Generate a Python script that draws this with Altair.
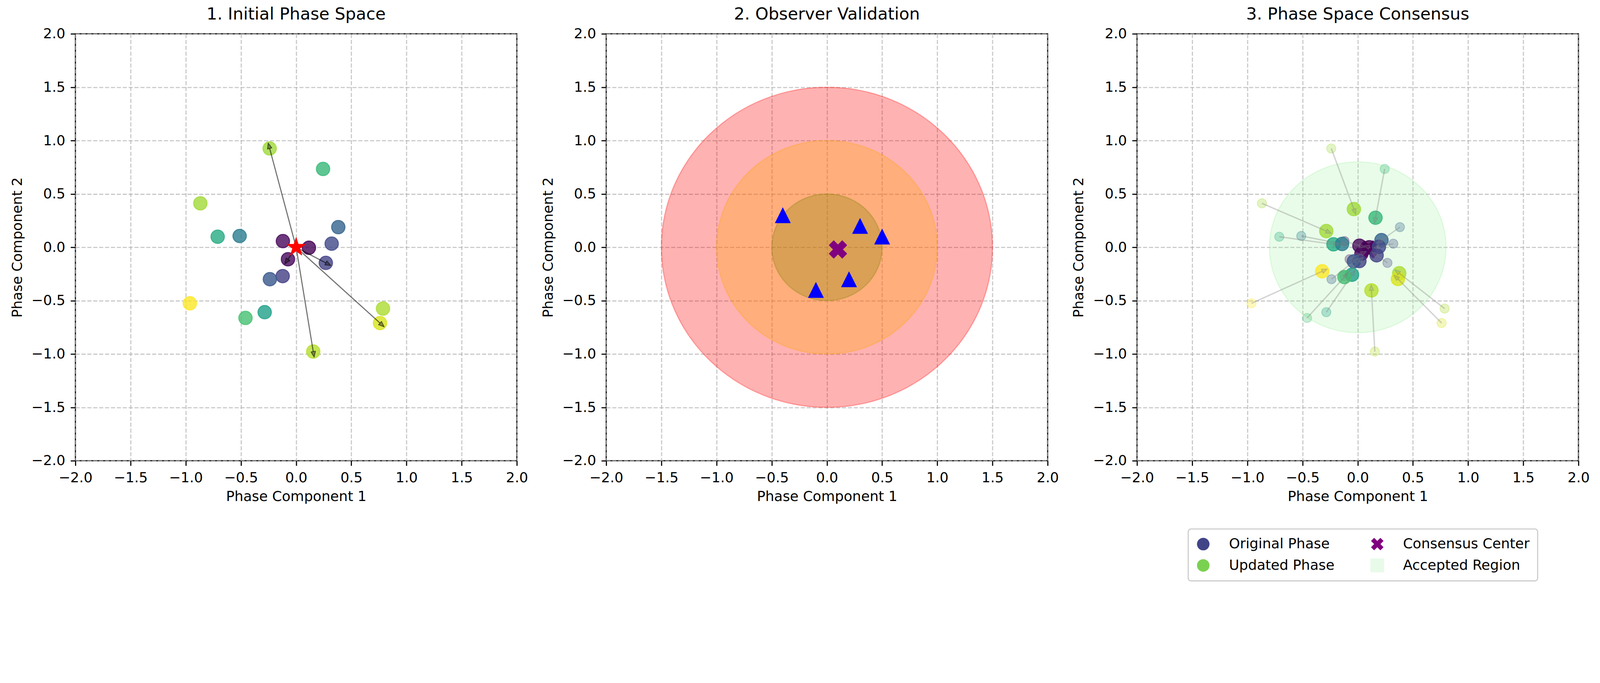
import numpy as np
import pandas as pd
import altair as alt

# phase points: original positions and positions after the consensus update
orig_x = [-0.240, 0.244, -0.868, -0.711, -0.512, 0.382, -0.120, 0.116, 0.322, -0.074,
          0.269, -0.122, -0.238, -0.963, 0.787, -0.285, -0.459, 0.760, 0.155]
orig_y = [0.926, 0.734, 0.412, 0.099, 0.106, 0.189, 0.058, -0.004, 0.034, -0.112,
          -0.146, -0.270, -0.299, -0.525, -0.574, -0.608, -0.662, -0.710, -0.977]
upd_x = [-0.035, 0.161, -0.285, -0.220, -0.142, 0.215, 0.015, 0.104, 0.192, 0.033,
         0.171, 0.015, -0.035, -0.322, 0.376, -0.052, -0.121, 0.364, 0.124]
upd_y = [0.358, 0.277, 0.152, 0.028, 0.031, 0.067, 0.015, 0.000, 0.005, -0.061,
         -0.075, -0.129, -0.132, -0.225, -0.243, -0.257, -0.279, -0.297, -0.404]
arrow_ids = [1, 10, 11, 18, 19]

star_x = [0.0]
star_y = [0.0]
center_x = [0.10]
center_y = [-0.02]

obs_x = [-0.4, 0.3, 0.5, 0.2, -0.1]
obs_y = [0.3, 0.2, 0.1, -0.3, -0.4]

zone_radius = [1.5, 1.0, 0.5]
zone_color = ["red", "orange", "olive"]
accept_radius = [0.8]
accept_color = ["lightgreen"]

ticks = [-2.0, -1.5, -1.0, -0.5, 0.0, 0.5, 1.0, 1.5, 2.0]
titles = ["1. Initial Phase Space", "2. Observer Validation", "3. Phase Space Consensus"]
legend_labels = ["Original Phase", "Updated Phase", "Consensus Center", "Accepted Region"]
legend_colors = ["#414487", "#7ad151", "purple", "#e8fae8"]

# layout (pixels)
W, H = 1319, 1276
SX, SY = W / 4, H / 4
FS = 41.7

# marker glyphs
k = 0.5523
a = SX / SY
ELLIPSE = (f"M {a} 0 C {a} {k} {a*k} 1 0 1 C {-a*k} 1 {-a} {k} {-a} 0 "
           f"C {-a} {-k} {-a*k} -1 0 -1 C {a*k} -1 {a} {-k} {a} 0 Z")
star_pts = []
for i in range(10):
    r = 1.0 if i % 2 == 0 else 0.382
    t = np.pi / 2 + i * np.pi / 5
    star_pts.append(f"{r*np.cos(t):.3f} {-r*np.sin(t):.3f}")
STAR = "M " + " L ".join(star_pts) + " Z"
XMARK = ("M -0.5 -1 L 0 -0.5 L 0.5 -1 L 1 -0.5 L 0.5 0 L 1 0.5 L 0.5 1 L 0 0.5 "
         "L -0.5 1 L -1 0.5 L -0.5 0 L -1 -0.5 Z")
TRI = "M 0 -1 L -1 1 L 1 1 Z"
HEAD = "M 0 -1.4 L -0.55 0 L 0.55 0 Z"
SQUARE = "M -1.1 -1.1 L 1.1 -1.1 L 1.1 1.1 L -1.1 1.1 Z"
legend_shapes = ["circle", "circle", XMARK, SQUARE]

phases = pd.DataFrame({"id": range(1, len(orig_x) + 1),
                       "x0": orig_x, "y0": orig_y, "x1": upd_x, "y1": upd_y})
arrows1 = phases[phases["id"].isin(arrow_ids)].assign(ox=star_x[0], oy=star_y[0])
star = pd.DataFrame({"x": star_x, "y": star_y})
center = pd.DataFrame({"x": center_x, "y": center_y})
observers = pd.DataFrame({"x": obs_x, "y": obs_y})
zones = pd.DataFrame({"r": zone_radius, "c": zone_color, "x": 0.0, "y": 0.0})
accept = pd.DataFrame({"r": accept_radius, "c": accept_color, "x": 0.0, "y": 0.0})
legend_df = pd.DataFrame({"kind": legend_labels})

SCALE = alt.Scale(domain=[-2, 2], nice=False, zero=False)
AX = alt.Axis(values=ticks, format=".1f", title="Phase Component 1")
AY = alt.Axis(values=ticks, format=".1f", title="Phase Component 2")
SIZE = alt.Scale(type="pow", exponent=2, domain=[0, 1.5], range=[0, (2 * SY * 1.5) ** 2])
VIR = alt.Scale(scheme="viridis")
NORM = "sqrt(datum.x0 * datum.x0 + datum.y0 * datum.y0)"


def ex(f):
    return alt.X(f"{f}:Q", scale=SCALE, axis=AX)


def ey(f):
    return alt.Y(f"{f}:Q", scale=SCALE, axis=AY)


def dots(xf, yf, size, alpha, sw):
    return (
        alt.Chart(phases)
        .transform_calculate(norm=NORM)
        .mark_point(shape="circle", filled=True, size=size, opacity=1,
                    fillOpacity=alpha, strokeOpacity=alpha, strokeWidth=sw)
        .encode(ex(xf), ey(yf),
                fill=alt.Fill("norm:Q", scale=VIR, legend=None),
                stroke=alt.Stroke("norm:Q", scale=VIR, legend=None))
    )


def arrows(df, fx, fy, tx, ty, color, alpha, sw):
    ang = (f"(atan2((datum.{tx} - datum.{fx}) * {SX}, (datum.{ty} - datum.{fy}) * {SY})"
           f" * 180 / PI + 360) % 360")
    line = alt.Chart(df).mark_rule(color=color, opacity=alpha, strokeWidth=sw).encode(
        ex(fx), ey(fy), x2=alt.X2(f"{tx}:Q"), y2=alt.Y2(f"{ty}:Q"))
    head = (
        alt.Chart(df)
        .transform_calculate(ang=ang)
        .mark_point(shape=HEAD, filled=True, size=576, opacity=1, fill=color,
                    fillOpacity=alpha * 0.7, stroke=color, strokeOpacity=alpha,
                    strokeWidth=2.5, strokeJoin="round")
        .encode(ex(tx), ey(ty), angle=alt.Angle("ang:Q", scale=None))
    )
    return line + head


def disc(df, i, fill_alpha, stroke_alpha):
    c = df["c"].iloc[i]
    return (
        alt.Chart(df.iloc[[i]])
        .mark_point(shape=ELLIPSE, filled=True, opacity=1, fill=c, stroke=c,
                    fillOpacity=fill_alpha, strokeOpacity=stroke_alpha, strokeWidth=3.3)
        .encode(ex("x"), ey("y"), size=alt.Size("r:Q", scale=SIZE, legend=None))
    )


def glyph(df, shape, color, size, sw):
    return alt.Chart(df).mark_point(
        shape=shape, filled=True, size=size, opacity=1, fill=color, stroke=color,
        strokeWidth=sw, strokeJoin="round").encode(ex("x"), ey("y"))


p1 = alt.layer(
    dots("x0", "y0", 1600, 0.8, 3),
    arrows(arrows1, "ox", "oy", "x0", "y0", "black", 0.55, 3.3),
    glyph(star, STAR, "red", 3300, 2),
).properties(width=W, height=H, title=titles[0])

p2 = alt.layer(
    *[disc(zones, i, 0.3, 0.3) for i in range(len(zones))],
    glyph(observers, TRI, "blue", 2116, 1),
    glyph(center, XMARK, "purple", 2600, 3),
).properties(width=W, height=H, title=titles[1])

legend = alt.Legend(title=None, symbolOpacity=1, symbolSize=1400, symbolStrokeWidth=0)
dummy = alt.Chart(legend_df).mark_point(filled=True, opacity=0).encode(
    x=alt.value(0), y=alt.value(0),
    color=alt.Color("kind:N", scale=alt.Scale(domain=legend_labels, range=legend_colors),
                    legend=legend),
    shape=alt.Shape("kind:N", scale=alt.Scale(domain=legend_labels, range=legend_shapes),
                    legend=legend),
)

p3 = alt.layer(
    disc(accept, 0, 0.2, 0.25),
    dots("x0", "y0", 750, 0.3, 2.5),
    glyph(center, XMARK, "purple", 2600, 3),
    dots("x1", "y1", 1600, 0.8, 3),
    arrows(phases, "x0", "y0", "x1", "y1", "gray", 0.35, 4),
    dummy,
).properties(width=W, height=H, title=titles[2])

chart = (
    alt.hconcat(p1, p2, p3, spacing=267, bounds="flush")
    .resolve_legend(color="independent", shape="independent")
    .configure(font="DejaVu Sans",
               padding={"left": 20, "top": -119, "right": 20, "bottom": -100})
    .configure_view(stroke="black", strokeWidth=3.3)
    .configure_axis(
        labelFont="DejaVu Sans", labelFontSize=FS, labelColor="black", labelPadding=16,
        labelFlush=False,
        titleFont="DejaVu Sans", titleFontSize=FS, titleFontWeight="normal",
        titleColor="black",
        domain=False, tickColor="black", tickWidth=3.3, tickSize=14.6,
        gridColor="#b0b0b0", gridOpacity=0.7, gridDash=[12.3, 5.3], gridWidth=3.3,
        zindex=1,
    )
    .configure_axisX(titlePadding=14)
    .configure_axisY(titlePadding=20)
    .configure_title(font="DejaVu Sans", fontSize=50, fontWeight="normal", color="black",
                     anchor="middle", offset=13, baseline="alphabetic")
    .configure_legend(
        orient="none", legendX=153, legendY=1480, columns=2, columnPadding=107,
        rowPadding=21, padding=24, labelFont="DejaVu Sans", labelFontSize=FS,
        labelColor="black", labelOffset=56, labelLimit=1000, strokeColor="#cccccc",
        strokeWidth=3.3, fillColor="white", cornerRadius=8,
    )
)

chart.save("out.html", embed_options={"renderer": "svg", "actions": False})
